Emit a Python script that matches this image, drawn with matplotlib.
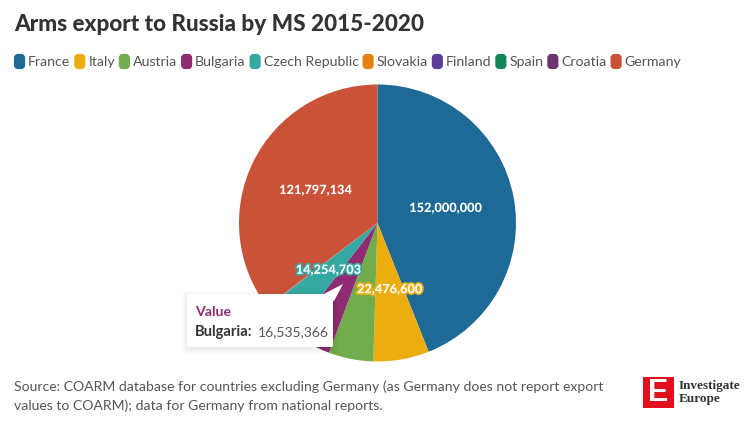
import matplotlib
matplotlib.use('Agg')
import matplotlib.pyplot as plt
import matplotlib.patheffects as pe
from matplotlib.patches import FancyBboxPatch, Polygon, Rectangle
import numpy as np

plt.rcParams['font.family'] = ['Lato', 'DejaVu Sans']

countries = ['France', 'Italy', 'Austria', 'Bulgaria', 'Czech Republic',
             'Slovakia', 'Finland', 'Spain', 'Croatia', 'Germany']
values = [152000000, 22476600, 18000000, 16535366, 14254703,
          200000, 150000, 100000, 100000, 121797134]
colors = ['#1d6a96', '#ecae0f', '#71ad4c', '#8e2b72', '#35a8a2',
          '#e5820f', '#5b3f97', '#11875a', '#6b3670', '#ca5238']
labelled = ['France', 'Italy', 'Czech Republic', 'Germany']

W, H = 750, 439
TXT = '#333333'
GREY = '#555555'

fig = plt.figure(figsize=(W/100, H/100), dpi=100)
ax = fig.add_axes([0, 0, 1, 1])


def fy(y):
    # picture pixels count from the top
    return H - y


wedges, _ = ax.pie(values, colors=colors, startangle=90, counterclock=False,
                   center=(377.5, fy(224)), radius=138.5,
                   wedgeprops={'linewidth': 0})
ax.set_xlim(0, W)
ax.set_ylim(0, H)
ax.set_aspect('equal')
ax.axis('off')

# value labels on the slices
for w, name, val in zip(wedges, countries, values):
    if name not in labelled:
        continue
    a = np.deg2rad((w.theta1 + w.theta2) / 2)
    x = w.center[0] + 0.5 * w.r * np.cos(a)
    y = w.center[1] + 0.5 * w.r * np.sin(a)
    t = ax.text(x, y + 2, format(val, ','), color='white', fontsize=9.2,
                fontweight='black', ha='center', va='center', zorder=5)
    t.set_path_effects([pe.withStroke(linewidth=2.5, foreground=w.get_facecolor())])

# title
ax.text(14, fy(24), 'Arms export to Russia by MS 2015-2020', fontsize=16.2,
        fontweight='black', color=TXT, ha='left', va='center')

# legend, each entry starts where the one before ended
r = fig.canvas.get_renderer()
lx = 14
for name, c in zip(countries, colors):
    ax.add_patch(FancyBboxPatch((lx + 2, fy(68)), 7, 11,
                                boxstyle='round,pad=0,rounding_size=2', mutation_aspect=1,
                                fc=c, ec=c, lw=3, zorder=3))
    t = ax.text(lx + 14, fy(62), name, fontsize=10.2, color=GREY, ha='left', va='center')
    lx = t.get_window_extent(r).x1 + 4

# tooltip
for i in range(6, 0, -1):
    ax.add_patch(FancyBboxPatch((187 - i + 1, fy(348) - i - 1), 146 + 2*i - 2, 53 + 2*i - 2,
                                boxstyle='round,pad=0,rounding_size=3', fc='black',
                                ec='none', alpha=0.012, zorder=6))
ax.add_patch(FancyBboxPatch((187, fy(348)), 146, 53, boxstyle='round,pad=0,rounding_size=2',
                            fc='white', ec='none', zorder=7))
ax.add_patch(Polygon([(322, fy(296)), (343, fy(285)), (334, fy(302))], fc='white', ec='none', zorder=7))
ax.text(195, fy(312), 'Value', fontsize=10.2, fontweight='bold', color=colors[3],
        ha='left', va='center', zorder=8)
t = ax.text(195, fy(332), 'Bulgaria:', fontsize=10.6, fontweight='bold', color=TXT,
            ha='left', va='center', zorder=8)
ax.text(258, fy(332), format(values[3], ','), fontsize=10,
        color=GREY, ha='left', va='center', zorder=8)

# source
ax.text(14, fy(387), 'Source: COARM database for countries excluding Germany (as Germany does not report export',
        fontsize=10.1, color=GREY, ha='left', va='center')
ax.text(14, fy(406), 'values to COARM); data for Germany from national reports.',
        fontsize=10.1, color=GREY, ha='left', va='center')

# logo
ax.add_patch(Rectangle((643, fy(409)), 31, 31, fc='#e2101f', ec='none'))
ax.text(658.5, fy(393.5), 'E', fontsize=22, fontweight='bold', color='white',
        ha='center', va='center', family='Liberation Sans')
ax.text(679, fy(386), 'Investigate', fontsize=9.5, fontweight='bold', color='#333333',
        ha='left', va='center', family='Liberation Serif')
ax.text(679, fy(399), 'Europe', fontsize=9.5, fontweight='bold', color='#333333',
        ha='left', va='center', family='Liberation Serif')

fig.savefig('out.png', dpi=100)
